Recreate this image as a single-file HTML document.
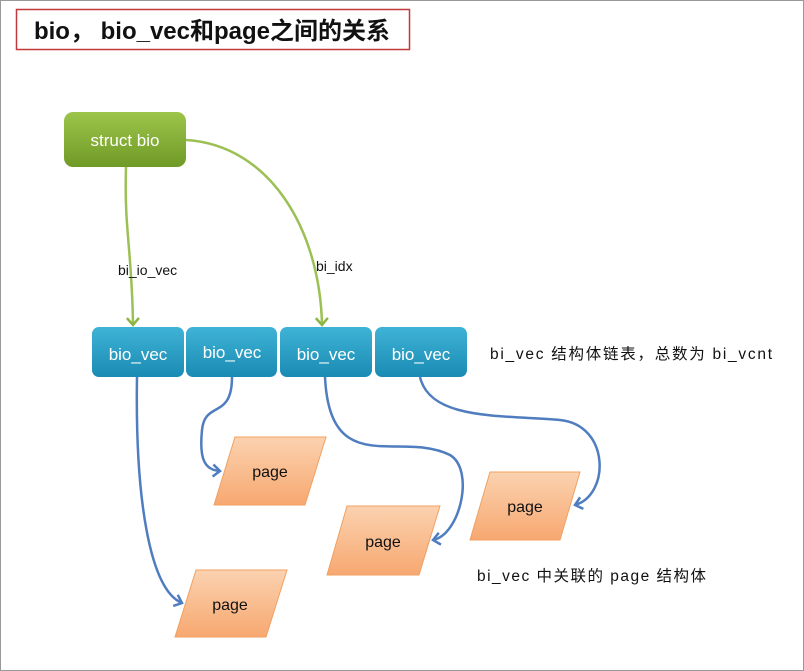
<!DOCTYPE html>
<html><head><meta charset="utf-8"><style>
body{margin:0;background:#fff}
svg{display:block}
text{font-family:"Liberation Sans","Noto Sans CJK SC",sans-serif}
</style></head><body>
<svg width="804" height="671" viewBox="0 0 804 671" xmlns="http://www.w3.org/2000/svg">
<defs>
<linearGradient id="g" x1="0" y1="0" x2="0" y2="1"><stop offset="0" stop-color="#9cc54a"/><stop offset="1" stop-color="#6f9a26"/></linearGradient>
<linearGradient id="b" x1="0" y1="0" x2="0" y2="1"><stop offset="0" stop-color="#3fb3d6"/><stop offset="1" stop-color="#1a8bb3"/></linearGradient>
<linearGradient id="o" x1="0" y1="0" x2="0" y2="1"><stop offset="0" stop-color="#fbd2b0"/><stop offset="1" stop-color="#f7a870"/></linearGradient>
<marker id="ag" markerUnits="userSpaceOnUse" markerWidth="16" markerHeight="16" refX="10" refY="8" orient="auto"><path d="M3,2 L10,8 L3,14" fill="none" stroke="#8cb544" stroke-width="2.5"/></marker>
<marker id="ab" markerUnits="userSpaceOnUse" markerWidth="16" markerHeight="16" refX="10" refY="8" orient="auto"><path d="M3,2 L10,8 L3,14" fill="none" stroke="#4f7dbf" stroke-width="2.5"/></marker>
</defs>
<rect x="0.5" y="0.5" width="803" height="670" fill="none" stroke="#999"/>
<rect x="16.5" y="9.5" width="393" height="40" fill="#fff" stroke="#c0393b" stroke-width="1.5"/>
<text x="212" y="39" text-anchor="middle" font-size="24" font-weight="bold" fill="#111">bio， bio_vec和page之间的关系</text>

<g fill="none" stroke-width="2.5">
<path d="M126,167 C124,230 132,250 133,325" stroke="#9cc054" marker-end="url(#ag)"/>
<path d="M186,140 C270,145 320,230 322,325" stroke="#9cc054" marker-end="url(#ag)"/>
<path d="M137,377 C135,500 150,590 182,603" stroke="#4f7dbf" marker-end="url(#ab)"/>
<path d="M232,377 C232,420 205,400 202,430 C199,460 205,470 220,471" stroke="#4f7dbf" marker-end="url(#ab)"/>
<path d="M325,377 C330,480 400,430 450,455 C475,470 460,535 433,540" stroke="#4f7dbf" marker-end="url(#ab)"/>
<path d="M420,377 C430,420 500,415 560,420 C610,425 610,495 575,505" stroke="#4f7dbf" marker-end="url(#ab)"/>
</g>

<rect x="64" y="112" width="122" height="55" rx="9" fill="url(#g)"/>
<text x="125" y="146" text-anchor="middle" font-size="17" fill="#fff">struct bio</text>

<g font-size="17" fill="#fff" text-anchor="middle">
<rect x="92" y="327" width="92" height="50" rx="7" fill="url(#b)"/><text x="138" y="360">bio_vec</text>
<rect x="186" y="327" width="91" height="50" rx="7" fill="url(#b)"/><text x="232" y="358">bio_vec</text>
<rect x="280" y="327" width="92" height="50" rx="7" fill="url(#b)"/><text x="326" y="360">bio_vec</text>
<rect x="375" y="327" width="92" height="50" rx="7" fill="url(#b)"/><text x="421" y="360">bio_vec</text>
</g>

<g stroke="#f0a060" stroke-width="1" fill="url(#o)">
<polygon points="235,437 326,437 305,505 214,505"/>
<polygon points="347,506 440,506 419,575 327,575"/>
<polygon points="490,472 580,472 560,540 470,540"/>
<polygon points="196,570 287,570 266,637 175,637"/>
</g>
<g font-size="16" fill="#111" text-anchor="middle">
<text x="270" y="477">page</text>
<text x="383" y="547">page</text>
<text x="525" y="512">page</text>
<text x="230" y="610">page</text>
</g>

<g font-size="14" fill="#111">
<text x="118" y="275">bi_io_vec</text>
<text x="316" y="271">bi_idx</text>
<text x="490" y="359" font-size="15.5" textLength="282">bi_vec 结构体链表，总数为 bi_vcnt</text>
<text x="477" y="581" font-size="15.5" textLength="229">bi_vec 中关联的 page 结构体</text>
</g>
</svg>
</body></html>
